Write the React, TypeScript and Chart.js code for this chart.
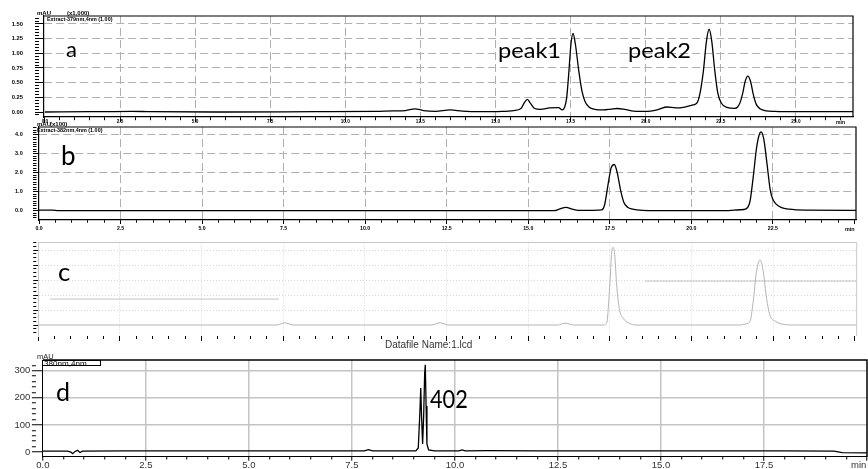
import React, { useEffect, useRef } from "react";
import { Chart, registerables } from "chart.js";

Chart.register(...registerables);

const W = 868;
const H = 469;

// ===== Panel a: Extract-379nm,4nm (mAU x1,000) =====
const aTime = [0, 1.5, 2.9, 3.5, 6, 9, 11, 11.6, 12, 12.32, 12.6, 13, 13.49, 13.9, 14.5, 15.2, 15.6, 15.85, 15.96, 16.06, 16.16, 16.3, 16.5, 16.8, 17.1, 17.22, 17.3, 17.37, 17.44, 17.51, 17.58, 17.66, 17.78, 17.88, 17.98, 18.12, 18.3, 18.6, 18.85, 19.05, 19.3, 19.6, 20, 20.4, 20.71, 21, 21.3, 21.57, 21.7, 21.8, 21.92, 22.02, 22.11, 22.2, 22.3, 22.4, 22.52, 22.7, 22.97, 23.05, 23.14, 23.22, 23.31, 23.4, 23.49, 23.58, 23.68, 23.82, 24, 24.3, 25, 26.9];
const aSignal = [0, 0.005, 0.012, 0.005, 0, 0.005, 0.01, 0.02, 0.025, 0.055, 0.025, 0.012, 0.035, 0.015, 0.005, 0.01, 0.025, 0.06, 0.16, 0.216, 0.15, 0.06, 0.045, 0.07, 0.075, 0.035, 0.08, 0.25, 0.67, 1.15, 1.34, 1.15, 0.67, 0.35, 0.18, 0.08, 0.045, 0.035, 0.05, 0.06, 0.045, 0.015, 0.01, 0.04, 0.085, 0.07, 0.085, 0.12, 0.15, 0.3, 0.7, 1.2, 1.41, 1.2, 0.7, 0.32, 0.15, 0.08, 0.063, 0.08, 0.16, 0.3, 0.52, 0.61, 0.52, 0.3, 0.13, 0.05, 0.02, 0.01, 0.005, 0.005];
const aXLabels = [0, 2.5, 5, 7.5, 10, 12.5, 15, 17.5, 20, 22.5, 25];
const aYLabels = [0, 0.25, 0.5, 0.75, 1, 1.25, 1.5];

// ===== Panel b: Extract-382nm,4nm (mAU x100) =====
const bTime = [0, 0.4, 0.6, 5, 10, 15.8, 15.95, 16.16, 16.35, 16.55, 17.0, 17.25, 17.34, 17.44, 17.54, 17.64, 17.73, 17.83, 17.93, 18.05, 18.2, 18.5, 19.5, 21.0, 21.5, 21.68, 21.8, 21.9, 22.0, 22.08, 22.14, 22.22, 22.32, 22.42, 22.5, 22.6, 22.75, 23.0, 23.5, 25.05];
const bSignal = [0.03, 0.03, 0, 0, 0, 0, 0.08, 0.18, 0.08, 0.02, 0.02, 0.04, 0.3, 1.3, 2.25, 2.44, 2.0, 1.1, 0.45, 0.18, 0.08, 0.02, 0, 0, 0.05, 0.1, 0.5, 1.8, 3.3, 4.0, 4.16, 3.8, 2.5, 1.1, 0.6, 0.35, 0.18, 0.08, 0.03, 0.02];
const bXLabels = [0, 2.5, 5, 7.5, 10, 12.5, 15, 17.5, 20, 22.5];
const bYLabels = [0, 1, 2, 3, 4];

// ===== Panel c: faint overlay trace =====
const cTime = [0, 7.3, 7.55, 7.8, 12.05, 12.3, 12.55, 15.9, 16.13, 16.4, 17.3, 17.4, 17.5, 17.56, 17.6, 17.65, 17.71, 17.79, 17.91, 18.1, 18.3, 21.5, 21.6, 21.79, 21.89, 21.99, 22.1, 22.2, 22.3, 22.4, 22.56, 22.8, 23.2, 25.06];
const cSignal = [0, 0, 0.15, 0, 0, 0.15, 0, 0, 0.12, 0, 0, 0.1, 2.67, 4.9, 5.18, 4.67, 2.67, 1.1, 0.45, 0.11, 0, 0, 0.05, 0.22, 1.55, 3.55, 4.33, 3.55, 1.78, 0.67, 0.27, 0.05, 0, 0];
const cGuideLowTime = [0.36, 7.37];
const cGuideLowLevel = [1.73, 1.73];
const cGuideHighTime = [18.58, 25.06];
const cGuideHighLevel = [2.93, 2.93];
const cXMajors = [0, 2.5, 5, 7.5, 10, 12.5, 15, 17.5, 20, 22.5, 25];
const cYMajors = [0, 1, 2, 3, 4, 5];

// ===== Panel d: 380nm,4nm (mAU) =====
const dTime = [0, 0.6, 0.68, 0.72, 0.78, 0.84, 0.9, 0.96, 2, 5, 7.8, 7.9, 8.0, 9.05, 9.11, 9.15, 9.17, 9.19, 9.215, 9.24, 9.265, 9.28, 9.3, 9.32, 9.36, 9.5, 10.1, 10.17, 10.25, 10.8, 12, 15, 18, 19.2, 19.4, 20];
const dSignal = [3, 3, 0, -6, 2, 6, -2, 3, 4, 4, 4, 9, 4, 4, 15, 150, 236, 130, 30, 130, 290, 322, 170, 30, 8, 4, 4, 8, 4, 5, 4, 4, 4, 3, -2, -3];
const dXLabels = [0, 2.5, 5, 7.5, 10, 12.5, 15, 17.5];
const dYLabels = [0, 100, 200, 300];

const pts = (xs: number[], ys: number[]) => xs.map((x, i) => ({ x, y: ys[i] }));
const isIn = (v: number, arr: number[]) => arr.some((m) => Math.abs(m - v) < 1e-6);
const noZero = (arr: number[]) => arr.filter((v) => v !== 0);

const SMALL = "'Liberation Sans', Arial, sans-serif";

function framePlugin(color: string, width: number) {
  return {
    id: "frame",
    afterDraw(chart: any) {
      const { left, right, top, bottom } = chart.chartArea;
      const ctx = chart.ctx;
      ctx.save();
      ctx.strokeStyle = color;
      ctx.lineWidth = width;
      ctx.beginPath();
      ctx.moveTo(left, top);
      ctx.lineTo(right, top);
      ctx.lineTo(right, bottom);
      ctx.stroke();
      ctx.restore();
    },
  };
}

function axisOpts(s: any, isX: boolean, p: any) {
  return {
    type: "linear",
    position: isX ? "bottom" : "left",
    min: s.min,
    max: s.max,
    afterFit: (sc: any) => {
      if (isX) sc.height = p.xHeight;
      else sc.width = p.area.l;
    },
    ticks: {
      stepSize: s.step,
      includeBounds: false,
      autoSkip: false,
      maxRotation: 0,
      minRotation: 0,
      padding: s.pad,
      color: s.labelColor || "#000",
      font: { family: SMALL, size: s.fontSize || 6, weight: s.bold ? "bold" : "normal" },
      callback: (v: number) => (s.labels && isIn(v, s.labels) ? s.fmt(v) : ""),
    },
    grid: {
      drawOnChartArea: true,
      drawTicks: true,
      tickLength: s.tl,
      lineWidth: p.gridWidth,
      color: (c: any) => (c.tick && isIn(c.tick.value, s.gridAt) ? p.gridColor : "rgba(0,0,0,0)"),
      tickColor: s.tickColor || "#000",
      tickWidth: 1,
      tickBorderDash: (c: any) => (c.tick && isIn(c.tick.value, s.majors) ? [] : [s.minorTl, 300]),
    },
    border: {
      display: s.borderShow !== false,
      color: s.borderColor || "#000",
      width: s.borderWidth || 1,
      dash: p.gridDash,
    },
  };
}

function buildConfig(p: any) {
  return {
    type: "line",
    data: { datasets: p.datasets },
    options: {
      animation: false,
      responsive: false,
      events: [],
      layout: {
        padding: { left: 0, right: W - p.area.r, top: p.area.t, bottom: H - p.area.b - p.xHeight },
      },
      plugins: { legend: { display: false }, tooltip: { enabled: false } },
      scales: { x: axisOpts(p.x, true, p), y: axisOpts(p.y, false, p) },
    },
    plugins: [framePlugin(p.frameColor, p.frameWidth)],
  };
}

const lineDs = (data: any, color: string, width: number, smooth: boolean) => ({
  data,
  borderColor: color,
  borderWidth: width,
  pointRadius: 0,
  fill: false,
  cubicInterpolationMode: smooth ? "monotone" : "default",
  tension: 0,
});

const PANELS = [
  {
    area: { l: 44, r: 853, t: 16, b: 117 },
    xHeight: 11,
    gridColor: "#b0b0b0",
    gridWidth: 1,
    gridDash: [8, 4],
    frameColor: "#000",
    frameWidth: 1.2,
    x: { min: -0.03, max: 26.9, step: 0.5, majors: aXLabels, labels: aXLabels, gridAt: noZero(aXLabels), fmt: (v: number) => v.toFixed(1), tl: 5, minorTl: 3, pad: -2.8, fontSize: 4.7, bold: true, borderWidth: 1.2 },
    y: { min: -0.085, max: 1.636, step: 0.05, majors: aYLabels, labels: aYLabels, gridAt: noZero(aYLabels), fmt: (v: number) => v.toFixed(2), tl: 9, minorTl: 4, pad: 12, fontSize: 5.8, bold: true, borderWidth: 1.2 },
    datasets: [lineDs(pts(aTime, aSignal), "#000", 1.3, true)],
  },
  {
    area: { l: 39, r: 856, t: 127, b: 220 },
    xHeight: 16,
    gridColor: "#b0b0b0",
    gridWidth: 1,
    gridDash: [8, 4],
    frameColor: "#000",
    frameWidth: 1.2,
    x: { min: 0, max: 25.05, step: 0.5, majors: [...bXLabels, 25], labels: bXLabels, gridAt: noZero(bXLabels), fmt: (v: number) => v.toFixed(1), tl: 4, minorTl: 2.5, pad: 1.4, fontSize: 5.2, bold: true, borderWidth: 1.2 },
    y: { min: -0.49, max: 4.42, step: 0.125, majors: bYLabels, labels: bYLabels, gridAt: noZero(bYLabels), fmt: (v: number) => v.toFixed(1), tl: 6, minorTl: 3.5, pad: 10.3, fontSize: 5.5, bold: true, borderWidth: 1.2 },
    datasets: [lineDs(pts(bTime, bSignal), "#000", 1.3, true)],
  },
  {
    area: { l: 38.3, r: 856.7, t: 242.5, b: 336 },
    xHeight: 8,
    gridColor: "#d6d6d6",
    gridWidth: 1,
    gridDash: [1, 2],
    frameColor: "#c8c8c8",
    frameWidth: 1,
    x: { min: 0, max: 25.06, step: 0.5, majors: cXMajors, labels: null, gridAt: noZero(cXMajors).filter((v) => v < 25), fmt: () => "", tl: 5, minorTl: 3, pad: 0, borderShow: false },
    y: { min: -0.733, max: 5.5, step: 0.25, majors: cYMajors, labels: null, gridAt: noZero(cYMajors), fmt: () => "", tl: 5, minorTl: 3, pad: 0, borderColor: "#c8c8c8" },
    datasets: [
      lineDs(pts(cTime, cSignal), "#b4b4b4", 1, true),
      lineDs(pts(cGuideLowTime, cGuideLowLevel), "#c4c4c4", 1, false),
      lineDs(pts(cGuideHighTime, cGuideHighLevel), "#c4c4c4", 1, false),
    ],
  },
  {
    area: { l: 42.9, r: 867, t: 360, b: 456.7 },
    xHeight: 12.3,
    gridColor: "#c4c4c4",
    gridWidth: 1.5,
    gridDash: [],
    frameColor: "#000",
    frameWidth: 1.5,
    x: { min: 0, max: 20, step: 0.5, majors: [...dXLabels, 20], labels: dXLabels, gridAt: noZero(dXLabels), fmt: (v: number) => v.toFixed(1), tl: 4, minorTl: 2.5, pad: -1.4, fontSize: 9.5, labelColor: "#333" },
    y: { min: -17.3, max: 339.5, step: 20, majors: dYLabels, labels: dYLabels, gridAt: noZero(dYLabels), fmt: (v: number) => String(v), tl: 11, minorTl: 4, pad: 1.5, fontSize: 9.5, labelColor: "#333" },
    datasets: [lineDs(pts(dTime, dSignal), "#000", 1.3, false)],
  },
];

type TxtProps = {
  x: number;
  top: number;
  size: number;
  text: string;
  family?: string;
  bold?: boolean;
  sx?: number;
  scale?: number;
  color?: string;
};

function Txt({ x, top, size, text, family, bold, sx, scale, color }: TxtProps) {
  const tr: string[] = [];
  if (scale) tr.push(`scale(${scale})`);
  if (sx) tr.push(`scaleX(${sx})`);
  return (
    <div
      style={{
        position: "absolute",
        left: x,
        top,
        fontSize: size,
        lineHeight: 1,
        fontFamily: family || SMALL,
        fontWeight: bold ? 700 : 400,
        color: color || "#000",
        whiteSpace: "nowrap",
        transform: tr.length ? tr.join(" ") : undefined,
        transformOrigin: "left top",
        pointerEvents: "none",
      }}
    >
      {text}
    </div>
  );
}

const BIG = "Lato, 'Open Sans', sans-serif";

export default function App() {
  const canvases = useRef<(HTMLCanvasElement | null)[]>([]);
  useEffect(() => {
    const charts = PANELS.map((p, i) => new Chart(canvases.current[i] as HTMLCanvasElement, buildConfig(p) as any));
    return () => charts.forEach((c) => c.destroy());
  }, []);

  return (
    <div style={{ position: "absolute", left: 0, top: 0, width: W, height: H, background: "#fff", overflow: "hidden" }}>
      {PANELS.map((_, i) => (
        <canvas
          key={i}
          ref={(el) => {
            canvases.current[i] = el;
          }}
          width={W}
          height={H}
          style={{ position: "absolute", left: 0, top: 0, width: W, height: H }}
        />
      ))}
      {/* panel a headers */}
      <Txt x={37} top={10.3} size={6} bold text="mAU" />
      <Txt x={67} top={10.3} size={6} bold text="(x1,000)" />
      <Txt x={47} top={16} size={6} bold sx={0.9} text="Extract-379nm,4nm (1.00)" />
      <Txt x={836} top={119.5} size={6} bold scale={0.85} text="min" />
      {/* panel b headers */}
      <Txt x={37} top={121} size={6} bold text="mAU" />
      <Txt x={50} top={121} size={6} bold text="(x100)" />
      <Txt x={37} top={127} size={6} bold sx={0.9} text="Extract-382nm,4nm (1.00)" />
      <Txt x={845} top={226} size={6} bold scale={0.9} text="min" />
      {/* panel c */}
      <Txt x={385} top={340} size={10} color="#333" text="Datafile Name:1.lcd" />
      {/* panel d headers */}
      <Txt x={37} top={352.5} size={7.5} color="#222" text="mAU" />
      <div
        style={{
          position: "absolute",
          left: 42,
          top: 359.5,
          width: 59,
          height: 6.5,
          border: "1px solid #000",
          boxSizing: "border-box",
          background: "#fff",
        }}
      />
      <Txt x={43.5} top={359.6} size={7.5} sx={1.08} color="#000" text="380nm,4nm" />
      <Txt x={851} top={460} size={9.5} color="#333" text="min" />
      {/* annotations */}
      <Txt x={66} top={37.5} size={22} family={BIG} text="a" />
      <Txt x={498} top={39.8} size={20.5} family={BIG} sx={1.15} text="peak1" />
      <Txt x={628} top={39.8} size={20.5} family={BIG} sx={1.15} text="peak2" />
      <Txt x={61} top={142} size={26} family={BIG} text="b" />
      <Txt x={58} top={259} size={25.7} family={BIG} text="c" />
      <Txt x={56} top={379} size={25} family={BIG} text="d" />
      <Txt x={430} top={385.8} size={25} family={BIG} sx={0.87} text="402" />
    </div>
  );
}
